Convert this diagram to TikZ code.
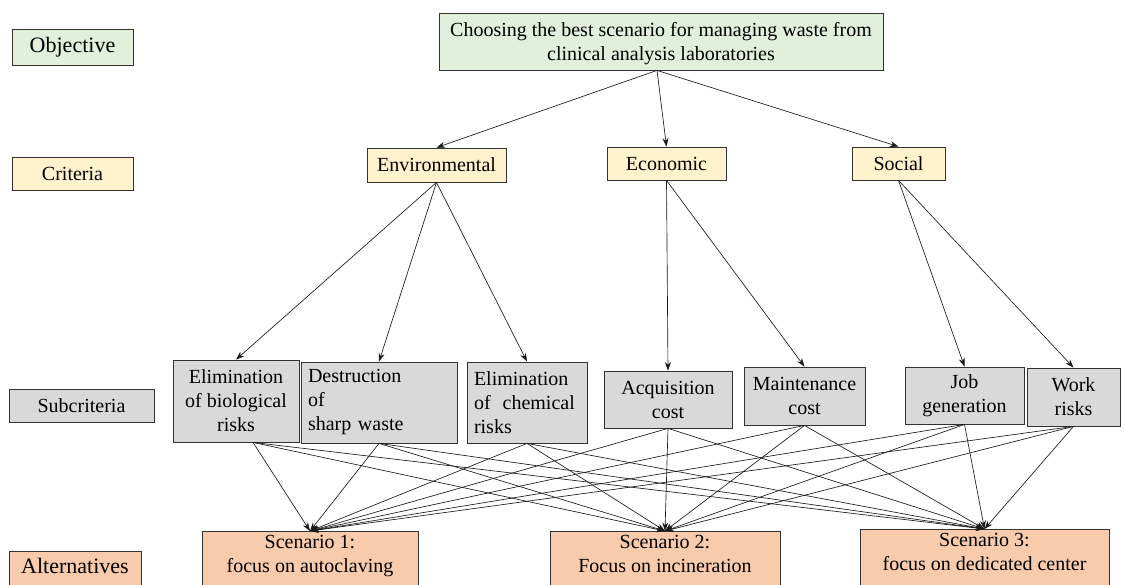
\documentclass[tikz,border=0pt]{standalone}
\usepackage{fontspec}
\setmainfont{Liberation Serif}
\usetikzlibrary{arrows.meta}
\definecolor{goalgreen}{RGB}{226,239,218}
\definecolor{crityellow}{RGB}{255,242,204}
\definecolor{subgray}{RGB}{217,217,217}
\definecolor{altorange}{RGB}{248,203,173}
\begin{document}
\begin{tikzpicture}[x=1pt,y=-1pt,
  box/.style={draw=black!80, line width=0.8pt, inner sep=0pt, align=center,
    font=\fontsize{20}{24}\selectfont},
  bigtext/.style={font=\fontsize{22}{26}\selectfont},
  goalbox/.style={box, fill=goalgreen},
  critbox/.style={box, fill=crityellow},
  subbox/.style={box, fill=subgray},
  altbox/.style={box, fill=altorange},
  leftbox/.style={subbox, align=left, inner xsep=7pt},
  scenbox/.style={altbox, anchor=north, text height=37pt, text depth=30pt, inner ysep=4pt},
  link/.style={draw=black!90, line width=0.65pt, -{Stealth[length=8.5pt,width=6pt]}},
]
\useasboundingbox[fill=white] (0,0) rectangle (1124,585);

% level labels on the left
\node[goalbox, bigtext, minimum width=121pt, minimum height=36pt] (lobj) at (72.5,47) {Objective};
\node[critbox, minimum width=121pt, minimum height=33pt] (lcrit) at (72.5,173.5) {Criteria};
\node[subbox, minimum width=145pt, minimum height=33pt] (lsub) at (81.5,405.5) {Subcriteria};
\node[altbox, bigtext, anchor=north, minimum width=132pt, text height=15pt, text depth=30pt,
  inner ysep=7pt] (lalt) at (75,551) {Alternatives};

% objective
\node[goalbox, minimum width=444pt, minimum height=57pt, text depth=1pt] (goal) at (661,41.5)
  {Choosing the best scenario for managing waste from\\clinical analysis laboratories};

% criteria
\node[critbox, minimum width=139pt, minimum height=34pt] (env) at (436.5,165) {Environmental};
\node[critbox, minimum width=119pt, minimum height=33pt] (econ) at (666.5,163.5) {Economic};
\node[critbox, minimum width=93pt, minimum height=33pt] (soc) at (898.5,163.5) {Social};

% subcriteria
\node[subbox, minimum width=126pt, minimum height=82pt] (bio) at (236,401)
  {Elimination\\of biological\\risks};
\node[leftbox, text width=142pt, minimum height=81pt] (destr) at (379,402.5)
  {Destruction\\of\\sharp waste};
\node[leftbox, text width=106pt, minimum height=81pt] (chem) at (527,402.5)
  {Elimination\\of\hspace{12pt}chemical\\risks};
\node[subbox, minimum width=128pt, minimum height=57pt] (acq) at (668,399.5)
  {Acquisition\\cost};
\node[subbox, minimum width=121pt, minimum height=58pt] (maint) at (804.5,396)
  {Maintenance\\cost};
\node[subbox, minimum width=119pt, minimum height=57pt] (job) at (964.5,395.5)
  {Job\\generation};
\node[subbox, minimum width=93pt, minimum height=58pt] (work) at (1073.5,397)
  {Work\\risks};

% alternatives
\node[scenbox, minimum width=216pt] (s1) at (310,531) {Scenario 1:\\focus on autoclaving};
\node[scenbox, minimum width=230pt] (s2) at (665,531) {Scenario 2:\\Focus on incineration};
\node[scenbox, minimum width=249pt] (s3) at (984.5,529) {Scenario 3:\\focus on dedicated center};

% connector end points that sit off centre
\coordinate (goalout) at ([xshift=-4pt]goal.south);
\coordinate (bioout) at ([xshift=17pt]bio.south);

% objective -> criteria
\foreach \c in {env,econ,soc}
  \draw[link] (goalout) -- (\c.north);

% criteria -> subcriteria
\draw[link] (env.south) -- (bio.north);
\draw[link] (env.south) -- (destr.north);
\draw[link] (env.south) -- (chem.north);
\draw[link] (econ.south) -- (acq.north);
\draw[link] (econ.south) -- (maint.north);
\draw[link] (soc.south) -- (job.north);
\draw[link] (soc.south) -- (work.north);

% subcriteria -> alternatives
\foreach \s in {bioout,destr.south,chem.south,acq.south,maint.south,job.south,work.south}
  \foreach \t in {s1,s2,s3}
    \draw[link] (\s) -- (\t.north);
\end{tikzpicture}
\end{document}
